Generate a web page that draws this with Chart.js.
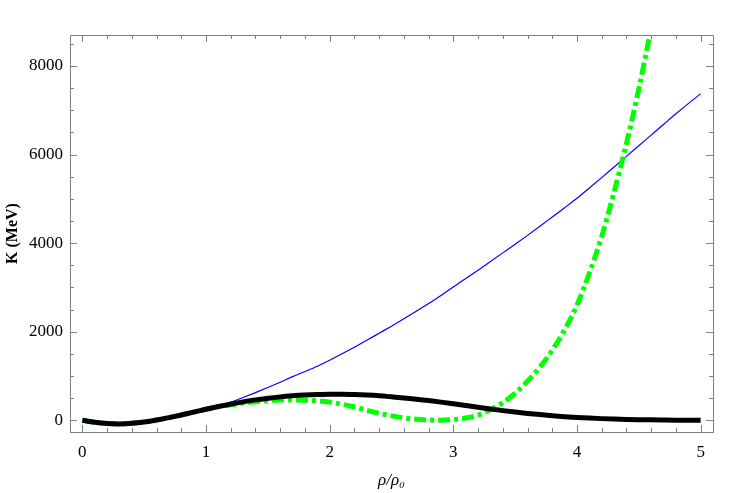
<!DOCTYPE html>
<html>
<head>
<meta charset="utf-8">
<script src="https://cdn.jsdelivr.net/npm/chart.js@4/dist/chart.umd.min.js"></script>
<style>
    html, body { margin: 0; padding: 0; background: #fff; }
    canvas { display: block; }
</style>
</head>
<body>
<canvas id="chart" width="747" height="493"></canvas>
<script>
// density grid, rho / rho0
const rho = [
    0.0, 0.1, 0.2, 0.3, 0.4, 0.5, 0.6, 0.7, 0.8, 0.9,
    1.0, 1.1, 1.2, 1.3, 1.4, 1.5, 1.6, 1.7, 1.8, 1.9,
    2.0, 2.1, 2.2, 2.3, 2.4, 2.5, 2.6, 2.7, 2.8, 2.9,
    3.0, 3.1, 3.2, 3.3, 3.4, 3.5, 3.6, 3.7, 3.8, 3.9,
    4.0, 4.1, 4.2, 4.3, 4.4, 4.5, 4.6, 4.7, 4.8, 4.9,
    5.0,
];

// K (MeV), black thick curve
const kBlack = [
    0, -45, -75, -82, -70, -40, 5, 60, 120, 185,
    250, 310, 365, 415, 460, 495, 528, 552, 570, 582,
    588, 588, 582, 570, 553, 530, 505, 475, 445, 410,
    372, 333, 293, 255, 218, 185, 155, 128, 104, 82,
    64, 49, 37, 27, 19, 13, 9, 6, 3, 1,
    0,
];

// K (MeV), green dot-dashed curve (leaves the frame after 4.6)
const kGreen = [
    0, -45, -75, -82, -70, -40, 5, 60, 120, 185,
    250, 305, 350, 390, 420, 442, 455, 460, 452, 440,
    410, 360, 300, 225, 155, 100, 55, 22, 5, 0,
    15, 50, 115, 240, 395, 610, 880, 1200, 1580, 2040,
    2600, 3320, 4150, 5150, 6250, 7480, 8850, null, null, null,
    null,
];

// K (MeV), thin blue curve
const kBlue = [
    0, -45, -75, -82, -70, -40, 5, 60, 120, 185,
    260, 325, 410, 515, 625, 740, 860, 985, 1100, 1220,
    1355, 1500, 1650, 1805, 1965, 2125, 2290, 2460, 2635, 2820,
    3010, 3200, 3390, 3585, 3780, 3975, 4175, 4380, 4590, 4800,
    5015, 5245, 5480, 5720, 5960, 6200, 6440, 6680, 6920, 7150,
    7370,
];

const xTicks = [ 0, 1, 2, 3, 4, 5 ];
const yTicks = [ 0, 2000, 4000, 6000, 8000 ];
const xMinorStep = 0.2;
const yMinorStep = 500;

const FRAME = '#808080';
const SERIF = "'Liberation Serif', 'Times New Roman', serif";

function points( ys ) {
    return rho.map( ( x, i ) => ( { x, y: ys[ i ] } ) );
}

function range( from, to, step ) {
    const out = [];
    for ( let v = from; v <= to + 1e-9; v += step ) out.push( Math.round( v * 1000 ) / 1000 );
    return out;
}

// Mathematica style frame with inward ticks on all four sides
const framePlugin = {
    id: 'frame',
    afterDraw( chart ) {
        const { ctx, chartArea: a, scales } = chart;
        const x = scales.x, y = scales.y;
        ctx.save();
        ctx.strokeStyle = FRAME;
        ctx.lineWidth = 1;
        ctx.strokeRect( a.left + 0.5, a.top + 0.5, a.right - a.left, a.bottom - a.top );

        const tick = ( x1, y1, x2, y2 ) => {
            ctx.beginPath();
            ctx.moveTo( x1, y1 );
            ctx.lineTo( x2, y2 );
            ctx.stroke();
        };

        range( 0, 5, xMinorStep ).forEach( ( v ) => {
            const len = xTicks.includes( v ) ? 7 : 4;
            const px = Math.round( x.getPixelForValue( v ) ) + 0.5;
            tick( px, a.bottom, px, a.bottom - len );
            tick( px, a.top, px, a.top + len );
        } );
        range( 0, 8500, yMinorStep ).forEach( ( v ) => {
            const len = yTicks.includes( v ) ? 7 : 4;
            const py = Math.round( y.getPixelForValue( v ) ) + 0.5;
            tick( a.left, py, a.left + len, py );
            tick( a.right, py, a.right - len, py );
        } );
        ctx.restore();
    },
};

new Chart( document.getElementById( 'chart' ), {
    type: 'line',
    data: {
        datasets: [
            {
                label: 'black',
                data: points( kBlack ),
                borderColor: '#000000',
                borderWidth: 5,
                cubicInterpolationMode: 'monotone',
            },
            {
                label: 'green',
                data: points( kGreen ),
                borderColor: '#00ff00',
                borderWidth: 5,
                borderDash: [ 12, 4, 4, 4 ],
                borderCapStyle: 'butt',
                cubicInterpolationMode: 'monotone',
                spanGaps: false,
            },
            {
                label: 'blue',
                data: points( kBlue ),
                borderColor: '#0000ff',
                borderWidth: 1.2,
                cubicInterpolationMode: 'monotone',
            },
        ],
    },
    options: {
        responsive: false,
        animation: false,
        events: [],
        elements: { point: { radius: 0 } },
        layout: { padding: { left: 0, top: 35, right: 34, bottom: 0 } },
        plugins: { legend: { display: false }, tooltip: { enabled: false } },
        scales: {
            x: {
                type: 'linear',
                min: -0.1,
                max: 5.1,
                afterBuildTicks: ( s ) => { s.ticks = xTicks.map( ( value ) => ( { value } ) ); },
                afterFit: ( s ) => { s.height = 61; },
                grid: { display: false, drawTicks: false },
                border: { display: false },
                ticks: {
                    color: '#000',
                    padding: 10,
                    maxRotation: 0,
                    font: { family: SERIF, size: 17 },
                    callback: ( v ) => String( v ),
                },
                title: {
                    display: true,
                    text: 'ρ/ρ₀',
                    color: '#000',
                    padding: { top: 0, bottom: 2 },
                    font: { family: SERIF, size: 17, style: 'italic' },
                },
            },
            y: {
                type: 'linear',
                min: -265,
                max: 8700,
                afterBuildTicks: ( s ) => { s.ticks = yTicks.map( ( value ) => ( { value } ) ); },
                afterFit: ( s ) => { s.width = 70; },
                grid: { display: false, drawTicks: false },
                border: { display: false },
                ticks: {
                    color: '#000',
                    padding: 7,
                    font: { family: SERIF, size: 17 },
                    callback: ( v ) => String( v ),
                },
                title: {
                    display: true,
                    text: 'K (MeV)',
                    color: '#000',
                    padding: { top: 3, bottom: 0 },
                    font: { family: SERIF, size: 16, weight: 'bold' },
                },
            },
        },
    },
    plugins: [ framePlugin ],
} );
</script>
</body>
</html>
